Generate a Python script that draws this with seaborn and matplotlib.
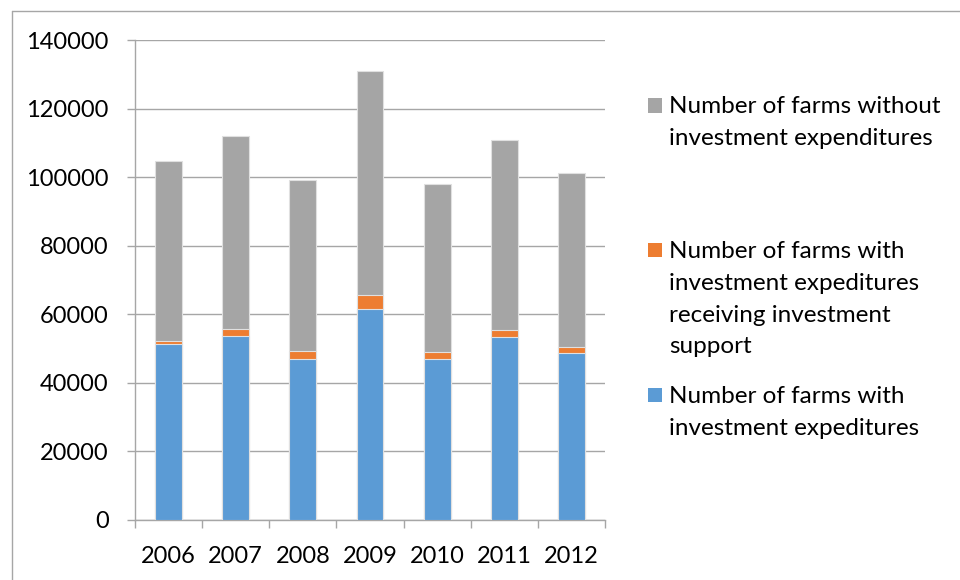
import matplotlib
matplotlib.use("Agg")
import matplotlib.pyplot as plt
from matplotlib.patches import Rectangle
from matplotlib.lines import Line2D
import seaborn as sns
import pandas as pd
import numpy as np

years = ["2006", "2007", "2008", "2009", "2010", "2011", "2012"]
with_invest = [51400, 53600, 46900, 61500, 46900, 53300, 48700]
with_support = [800, 2200, 2400, 4000, 1900, 2100, 1800]
without_invest = [52400, 56300, 49800, 65600, 49300, 55400, 50600]

labels = [
    "Number of farms without\ninvestment expenditures",
    "Number of farms with\ninvestment expeditures\nreceiving investment\nsupport",
    "Number of farms with\ninvestment expeditures",
]
colors = ["#A5A5A5", "#ED7D31", "#5B9BD5"]

sns.set_theme(style="white")
plt.rcParams["font.family"] = ["Lato", "DejaVu Sans"]

df = pd.DataFrame({
    "year": years,
    "blue": with_invest,
    "orange": with_support,
    "gray": without_invest,
})
df["lvl1"] = df["blue"]
df["lvl2"] = df["blue"] + df["orange"]
df["lvl3"] = df["lvl2"] + df["gray"]

fig = plt.figure(figsize=(9.6, 5.8), dpi=100)
ax = fig.add_axes([135 / 960, 1 - 519.5 / 580, (605 - 135) / 960, (519.5 - 40.3) / 580])

edge = dict(edgecolor="#E0E0E0", linewidth=0.8)
sns.barplot(data=df, x="year", y="lvl3", color=colors[0], width=0.4, ax=ax, saturation=1, zorder=3, **edge)
sns.barplot(data=df, x="year", y="lvl2", color=colors[1], width=0.4, ax=ax, saturation=1, zorder=3, **edge)
sns.barplot(data=df, x="year", y="lvl1", color=colors[2], width=0.4, ax=ax, saturation=1, zorder=3, **edge)

ax.set_ylim(0, 140000)
ax.set_xlim(-0.5, len(years) - 0.5)
ax.set_yticks(np.arange(0, 140001, 20000))
ax.yaxis.grid(True, color="#A6A6A6", linewidth=1.0, zorder=0)
ax.set_axisbelow(True)
ax.set_xlabel("")
ax.set_ylabel("")

for s in ["top", "right"]:
    ax.spines[s].set_visible(False)
for s in ["left", "bottom"]:
    ax.spines[s].set_color("#A6A6A6")
    ax.spines[s].set_linewidth(1.0)

ax.tick_params(axis="y", which="major", left=True, length=6, width=1, color="#A6A6A6",
               pad=13, labelsize=17, labelcolor="#000000")
ax.set_xticks(np.arange(-0.5, len(years), 1.0), minor=True)
ax.tick_params(axis="x", which="minor", bottom=True, length=6, width=1, color="#A6A6A6")
ax.tick_params(axis="x", which="major", bottom=False, length=0, pad=19,
               labelsize=17, labelcolor="#000000")

# outer chart border
fig.add_artist(Line2D([12 / 960, 1.0], [1 - 11 / 580, 1 - 11 / 580], color="#A6A6A6", lw=1.0))
fig.add_artist(Line2D([12 / 960, 12 / 960], [1 - 11 / 580, 0.0], color="#A6A6A6", lw=1.0))

# legend (manual, matching layout)
square_cy = [105.5, 250, 395]
first_base = [113.3, 258.3, 403.3]
line_h = 31.7
for lab, col, cy, fb in zip(labels, colors, square_cy, first_base):
    fig.add_artist(Rectangle((648 / 960, 1 - (cy + 7) / 580), 14 / 960, 14 / 580,
                             facecolor=col, edgecolor="none", transform=fig.transFigure))
    for i, line in enumerate(lab.split("\n")):
        fig.text(669 / 960, 1 - (fb + i * line_h) / 580, line, fontsize=17.5,
                 va="baseline", ha="left", color="#000000")

fig.savefig("out.png", dpi=100)
